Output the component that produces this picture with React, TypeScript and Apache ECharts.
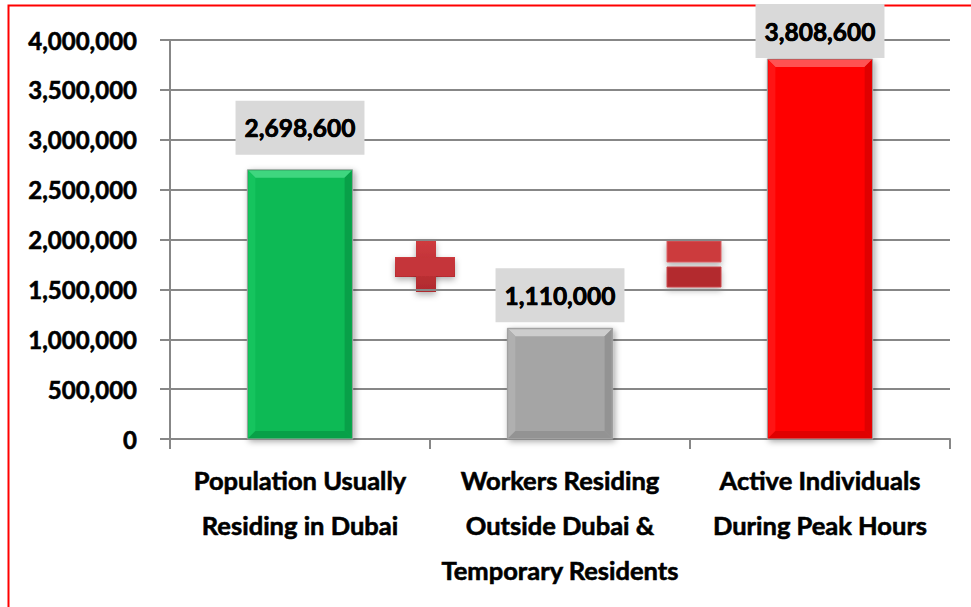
import React, { useEffect, useRef } from "react";
import * as echarts from "echarts";

const categories = [
  "Population Usually\nResiding in Dubai",
  "Workers Residing\nOutside Dubai &\nTemporary Residents",
  "Active Individuals\nDuring Peak Hours",
];
const values = [2698600, 1110000, 3808600];
const yMin = 0;
const yMax = 4000000;
const yInterval = 500000;

const barBase = ["#0cba54", "#a5a5a5", "#ff0000"];
const barLight = ["#3fd67f", "#cdcdcd", "#ff5252"];
const barSide = ["#15c45e", "#b0b0b0", "#ff1414"];
const barDark = ["#08a048", "#939393", "#e00000"];
const labelGaps = [15, 6, 1];

const FONT = "Lato, 'Open Sans', sans-serif";

function fmt(v: number) {
  return v.toLocaleString("en-US");
}

export default function App() {
  const ref = useRef<HTMLDivElement>(null);
  useEffect(() => {
    if (!ref.current) return;
    const chart = echarts.init(ref.current, undefined, { renderer: "svg" });
    const gridColor = "#878787";
    const PAD_V = 12;
    const labelBase = {
      align: "center",
      verticalAlign: "bottom",
      fontFamily: FONT,
      fontWeight: "bold",
      fontSize: 24.5,
      lineHeight: 30,
    };
    const option: any = {
      animation: false,
      backgroundColor: "#ffffff",
      grid: { left: 170, right: 21, top: 40, bottom: 168, containLabel: false },
      xAxis: {
        type: "category",
        data: categories,
        axisLine: { show: true, lineStyle: { color: gridColor, width: 2 } },
        axisTick: { show: true, length: 10, lineStyle: { color: gridColor, width: 2 } },
        axisLabel: {
          color: "#000",
          fontFamily: FONT,
          fontWeight: "bold",
          fontSize: 25.5,
          lineHeight: 45,
          margin: 18,
          interval: 0,
          textBorderColor: "#000",
          textBorderWidth: 0.6,
        },
      },
      yAxis: {
        type: "value",
        min: yMin,
        max: yMax,
        interval: yInterval,
        axisLine: { show: true, lineStyle: { color: gridColor, width: 2 } },
        axisTick: { show: true, length: 10, inside: false, lineStyle: { color: gridColor, width: 2 } },
        splitLine: { show: true, lineStyle: { color: gridColor, width: 2 } },
        axisLabel: {
          color: "#000",
          fontFamily: FONT,
          fontWeight: "bold",
          fontSize: 24,
          margin: 33,
          textBorderColor: "#000",
          textBorderWidth: 0.6,
          formatter: (v: number) => fmt(v),
        },
      },
      series: [
        {
          type: "custom",
          data: values.map((v, i) => [i, v]),
          renderItem: (params: any, api: any) => {
            const i = params.dataIndex;
            const idx = api.value(0);
            const val = api.value(1);
            const top = api.coord([idx, val]);
            const bot = api.coord([idx, 0]);
            const w = api.size([1, 0])[0] * 0.405;
            const l = top[0] - w / 2;
            const r = top[0] + w / 2;
            const t = top[1];
            const b = bot[1];
            const bv = 8;
            return {
              type: "group",
              children: [
                {
                  type: "rect",
                  shape: { x: l, y: t, width: w, height: b - t },
                  style: {
                    fill: barBase[i],
                    stroke: "#9c9c9c",
                    lineWidth: 1,
                    shadowBlur: 6,
                    shadowOffsetX: 2,
                    shadowOffsetY: 2,
                    shadowColor: "rgba(0,0,0,0.35)",
                  },
                },
                {
                  type: "polygon",
                  shape: { points: [[l + 1, t + 1], [r - 1, t + 1], [r - bv, t + bv], [l + bv, t + bv]] },
                  style: { fill: barLight[i] },
                },
                {
                  type: "polygon",
                  shape: { points: [[l + 1, t + 1], [l + bv, t + bv], [l + bv, b - bv], [l + 1, b - 1]] },
                  style: { fill: barSide[i] },
                },
                {
                  type: "polygon",
                  shape: { points: [[r - 1, t + 1], [r - bv, t + bv], [r - bv, b - bv], [r - 1, b - 1]] },
                  style: { fill: barDark[i] },
                },
                {
                  type: "polygon",
                  shape: { points: [[l + 1, b - 1], [l + bv, b - bv], [r - bv, b - bv], [r - 1, b - 1]] },
                  style: { fill: barDark[i] },
                },
                {
                  type: "text",
                  style: {
                    ...labelBase,
                    text: fmt(val),
                    x: top[0],
                    y: t - labelGaps[i],
                    fill: "#000",
                    backgroundColor: "#d9d9d9",
                    padding: [PAD_V, 9, PAD_V, 9],
                  },
                },
                {
                  type: "text",
                  style: {
                    ...labelBase,
                    text: fmt(val),
                    x: top[0],
                    y: t - labelGaps[i] - PAD_V,
                    fill: "#000",
                    stroke: "#000",
                    lineWidth: 0.6,
                  },
                },
              ],
            };
          },
        },
      ],
      graphic: [
        {
          type: "rect",
          shape: { x: 8.5, y: 5.5, width: 2000, height: 2000 },
          style: { fill: "none", stroke: "#ff0000", lineWidth: 2 },
          silent: true,
        },
        {
          type: "group",
          children: [
            {
              type: "rect",
              shape: { x: 395, y: 257, width: 60, height: 20 },
              style: {
                fill: new echarts.graphic.LinearGradient(0, 0, 0, 1, [
                  { offset: 0, color: "#cf3b3f" },
                  { offset: 1, color: "#b62c30" },
                ]),
                shadowBlur: 6,
                shadowOffsetY: 3,
                shadowColor: "rgba(0,0,0,0.3)",
              },
            },
            {
              type: "rect",
              shape: { x: 416, y: 240, width: 20, height: 52 },
              style: {
                fill: new echarts.graphic.LinearGradient(0, 0, 0, 1, [
                  { offset: 0, color: "#cf3b3f" },
                  { offset: 1, color: "#b02a2e" },
                ]),
                shadowBlur: 6,
                shadowOffsetY: 3,
                shadowColor: "rgba(0,0,0,0.3)",
              },
            },
            {
              type: "rect",
              shape: { x: 396, y: 258, width: 58, height: 18 },
              style: { fill: "#c5353a" },
            },
          ],
        },
        {
          type: "rect",
          shape: { x: 667, y: 241, width: 54, height: 21 },
          style: {
            fill: "#cc3a3e",
            stroke: "#d86064",
            lineWidth: 1,
            shadowBlur: 6,
            shadowOffsetY: 3,
            shadowColor: "rgba(0,0,0,0.3)",
          },
        },
        {
          type: "rect",
          shape: { x: 667, y: 267, width: 54, height: 20 },
          style: {
            fill: "#b32a2e",
            stroke: "#c9474b",
            lineWidth: 1,
            shadowBlur: 6,
            shadowOffsetY: 3,
            shadowColor: "rgba(0,0,0,0.3)",
          },
        },
      ],
    };
    chart.setOption(option);
    return () => chart.dispose();
  }, []);
  return (
    <div
      ref={ref}
      style={{ position: "fixed", left: 0, top: 0, width: 971, height: 607 }}
    />
  );
}
